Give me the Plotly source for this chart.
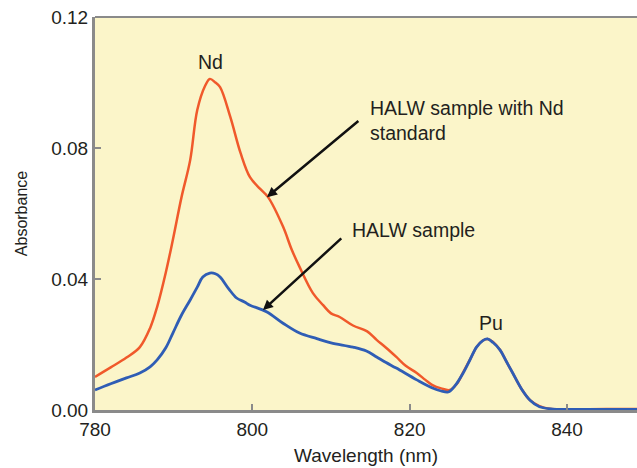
import plotly.graph_objects as go

# Red: HALW sample with Nd standard
wl_nd = [780, 782, 784, 785.7, 787, 787.9, 789, 789.9, 791, 792.1, 793.0, 794.0, 794.6, 795.3, 795.9,
         797.2, 798.5, 799.7, 801, 802.0, 803.9, 805, 806.0, 807.7, 809.0, 810, 811.1, 812.8, 814.6,
         815.8, 817, 818.3, 819.5, 820.9, 822, 822.9, 824, 825.1, 826.0, 826.8, 827.8, 828.5, 829.3,
         829.9, 830.6, 831.5, 832.3, 833.1, 834.2, 835.3, 836.5, 838, 840, 845, 849]
abs_nd = [0.0101, 0.0130, 0.0160, 0.0192, 0.025, 0.0315, 0.042, 0.052, 0.065, 0.0763, 0.0916, 0.099,
          0.1011, 0.1000, 0.0986, 0.0895, 0.0785, 0.0711, 0.0675, 0.0650, 0.0560, 0.0490, 0.0437,
          0.0357, 0.0320, 0.0295, 0.0284, 0.0258, 0.0240, 0.0214, 0.0190, 0.0162, 0.0135, 0.0113,
          0.0092, 0.0076, 0.0066, 0.0061, 0.0080, 0.0115, 0.0160, 0.0192, 0.0212, 0.0217, 0.0208,
          0.0183, 0.0148, 0.0113, 0.0065, 0.0030, 0.0012, 0.0003, 0.0002, 0.0003, 0.0003]

# Blue: HALW sample
wl_s = [780, 782, 784, 785.7, 787, 787.9, 789, 789.9, 791, 792.1, 793, 793.7, 794.6, 795.3, 795.9,
        797, 798.0, 799, 799.7, 801.8, 803.9, 806.0, 808.2, 810, 812.8, 814.5, 815.8, 817, 818.3,
        820.9, 822.9, 824.0, 824.9, 825.8, 826.8, 827.7, 828.5, 829.3, 829.9, 830.6, 831.5, 832.3,
        833.1, 834.2, 835.3, 836.5, 838.2, 840, 845, 849]
abs_s = [0.0061, 0.0080, 0.0098, 0.0113, 0.0132, 0.0153, 0.019, 0.0235, 0.029, 0.0336, 0.0375,
         0.0406, 0.0418, 0.0416, 0.0406, 0.0370, 0.0342, 0.0330, 0.032, 0.030, 0.0265, 0.0235,
         0.0218, 0.0205, 0.0192, 0.0180, 0.0162, 0.0145, 0.0128, 0.0092, 0.0067, 0.0058, 0.0055,
         0.0075, 0.0113, 0.0155, 0.0192, 0.0212, 0.0217, 0.0206, 0.0183, 0.0148, 0.0113, 0.0065,
         0.0030, 0.0010, 0.0003, 0.0002, 0.0002, 0.0002]

x_ticks = [780, 800, 820, 840]
y_ticks = [0.00, 0.04, 0.08, 0.12]
y_tick_labels = ["0.00", "0.04", "0.08", "0.12"]

FONT = "Liberation Sans, Arial, Helvetica, sans-serif"
TXT = "#231f20"
RED = "#f0592b"
BLUE = "#2f5db5"

fig = go.Figure()
fig.add_trace(go.Scatter(x=wl_nd, y=abs_nd, mode="lines", line=dict(color=RED, width=2.5),
                         line_shape="spline", showlegend=False))
fig.add_trace(go.Scatter(x=wl_s, y=abs_s, mode="lines", line=dict(color=BLUE, width=2.8),
                         line_shape="spline", showlegend=False))

annos = [
    dict(x=794.74, y=0.1063, text="Nd", showarrow=False, xanchor="center", yanchor="middle"),
    dict(x=830.3, y=0.0266, text="Pu", showarrow=False, xanchor="center", yanchor="middle"),
    dict(x=814.69, y=0.0885, text="HALW sample with Nd<br>standard", showarrow=False,
         xanchor="left", yanchor="middle", align="left"),
    dict(x=812.4, y=0.055, text="HALW sample", showarrow=False, xanchor="left", yanchor="middle"),
    dict(x=801.86, y=0.0650, ax=813.67, ay=0.0886, axref="x", ayref="y", text="", showarrow=True,
         arrowhead=2, arrowsize=0.8, arrowwidth=2.5, arrowcolor="#111111"),
    dict(x=801.35, y=0.0305, ax=811.5, ay=0.0528, axref="x", ayref="y", text="", showarrow=True,
         arrowhead=2, arrowsize=0.8, arrowwidth=2.5, arrowcolor="#111111"),
]
for a in annos:
    a.setdefault("font", dict(family=FONT, size=19.5, color=TXT))
    a["xref"] = "x"
    a["yref"] = "y"
    fig.add_annotation(**a)

fig.add_shape(type="line", xref="paper", yref="paper", x0=0, x1=1, y0=1, y1=1,
              line=dict(color="#8a8a8a", width=2))

fig.update_layout(
    width=637, height=468,
    margin=dict(l=95, r=0, t=17, b=58, autoexpand=False),
    paper_bgcolor="white",
    plot_bgcolor="#fbf5c9",
    font=dict(family=FONT, size=19, color=TXT),
    xaxis=dict(range=[780, 848.9], tickvals=x_ticks, ticks="inside", ticklen=6, tickwidth=1.5,
               tickcolor="#8a8a8a", showline=True, linecolor="#8a8a8a", linewidth=3,
               showgrid=False, zeroline=False, ticklabeloverflow="allow",
               title=dict(text="Wavelength (nm)", font=dict(size=19), standoff=10)),
    yaxis=dict(range=[0, 0.12], tickvals=y_ticks, ticktext=y_tick_labels, ticks="inside", ticklen=6,
               tickwidth=1.5, tickcolor="#8a8a8a", showline=True, linecolor="#8a8a8a", linewidth=3,
               showgrid=False, zeroline=False, ticklabeloverflow="allow",
               title=dict(text="Absorbance", font=dict(size=16), standoff=20)),
)

fig.write_html(
    "out.html",
    config={"displayModeBar": False},
    post_script="document.body.style.margin='0';document.body.style.overflow='hidden';",
)
